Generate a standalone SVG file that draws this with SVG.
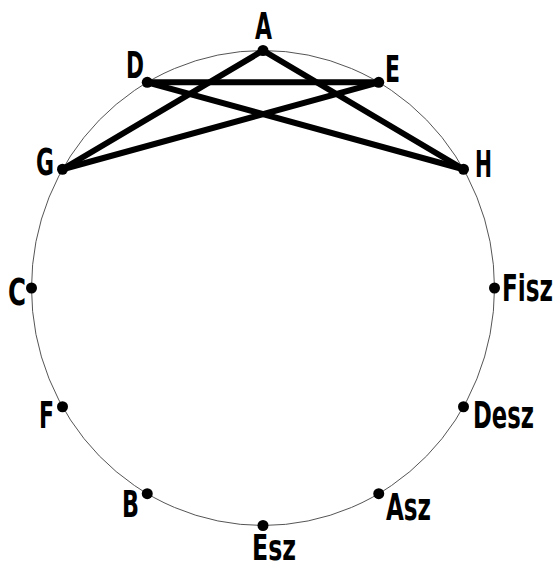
<svg xmlns="http://www.w3.org/2000/svg" width="555" height="567" viewBox="0 0 555 567">
<style>
.ring{fill:none;stroke:#555;stroke-width:1}
.edge{stroke:#000;stroke-width:6;stroke-linecap:round}
.dot{fill:#000}
.lbl{font-family:"Liberation Sans Narrow","DejaVu Sans Condensed","Liberation Sans",sans-serif;font-weight:bold;font-size:24px;fill:#000}
</style>
<rect width="555" height="567" fill="#fff"/>
<ellipse class="ring" cx="263" cy="288" rx="231.5" ry="237.5"/>
<g id="connectors">
<line class="edge" x1="263" y1="50.5" x2="62.5" y2="169.25"/>
<line class="edge" x1="263" y1="50.5" x2="463.5" y2="169.25"/>
<line class="edge" x1="147.25" y1="82.3" x2="378.75" y2="82.3"/>
<line class="edge" x1="147.25" y1="82.3" x2="463.5" y2="169.25"/>
<line class="edge" x1="378.75" y1="82.3" x2="62.5" y2="169.25"/>
</g>
<g id="A"><circle class="dot" cx="263" cy="50.5" r="5.5"/><text class="lbl" transform="translate(255,39) scale(1,1.55)" textLength="17" lengthAdjust="spacingAndGlyphs">A</text></g>
<g id="E"><circle class="dot" cx="378.75" cy="82.3" r="5.5"/><text class="lbl" transform="translate(385,82) scale(1,1.55)" textLength="15" lengthAdjust="spacingAndGlyphs">E</text></g>
<g id="H"><circle class="dot" cx="463.5" cy="169.25" r="5.5"/><text class="lbl" transform="translate(475,177) scale(1,1.55)" textLength="17" lengthAdjust="spacingAndGlyphs">H</text></g>
<g id="Fisz"><circle class="dot" cx="494.5" cy="288" r="5.5"/><text class="lbl" transform="translate(502,301) scale(1,1.55)" textLength="51" lengthAdjust="spacingAndGlyphs">Fisz</text></g>
<g id="Desz"><circle class="dot" cx="463.5" cy="406.75" r="5.5"/><text class="lbl" transform="translate(473,428) scale(1,1.55)" textLength="61" lengthAdjust="spacingAndGlyphs">Desz</text></g>
<g id="Asz"><circle class="dot" cx="378.75" cy="493.7" r="5.5"/><text class="lbl" transform="translate(386,520) scale(1,1.55)" textLength="45" lengthAdjust="spacingAndGlyphs">Asz</text></g>
<g id="Esz"><circle class="dot" cx="263" cy="525.5" r="5.5"/><text class="lbl" transform="translate(252,560) scale(1,1.5)" textLength="44" lengthAdjust="spacingAndGlyphs">Esz</text></g>
<g id="B"><circle class="dot" cx="147.25" cy="493.7" r="5.5"/><text class="lbl" transform="translate(122,517) scale(1,1.55)" textLength="17" lengthAdjust="spacingAndGlyphs">B</text></g>
<g id="F"><circle class="dot" cx="62.5" cy="406.75" r="5.5"/><text class="lbl" transform="translate(39,428) scale(1,1.55)" textLength="15" lengthAdjust="spacingAndGlyphs">F</text></g>
<g id="C"><circle class="dot" cx="31.5" cy="288" r="5.5"/><text class="lbl" transform="translate(8,305) scale(1,1.55)" textLength="18" lengthAdjust="spacingAndGlyphs">C</text></g>
<g id="G"><circle class="dot" cx="62.5" cy="169.25" r="5.5"/><text class="lbl" transform="translate(36,175) scale(1,1.55)" textLength="18" lengthAdjust="spacingAndGlyphs">G</text></g>
<g id="D"><circle class="dot" cx="147.25" cy="82.3" r="5.5"/><text class="lbl" transform="translate(126,78) scale(1,1.55)" textLength="18" lengthAdjust="spacingAndGlyphs">D</text></g>
</svg>
